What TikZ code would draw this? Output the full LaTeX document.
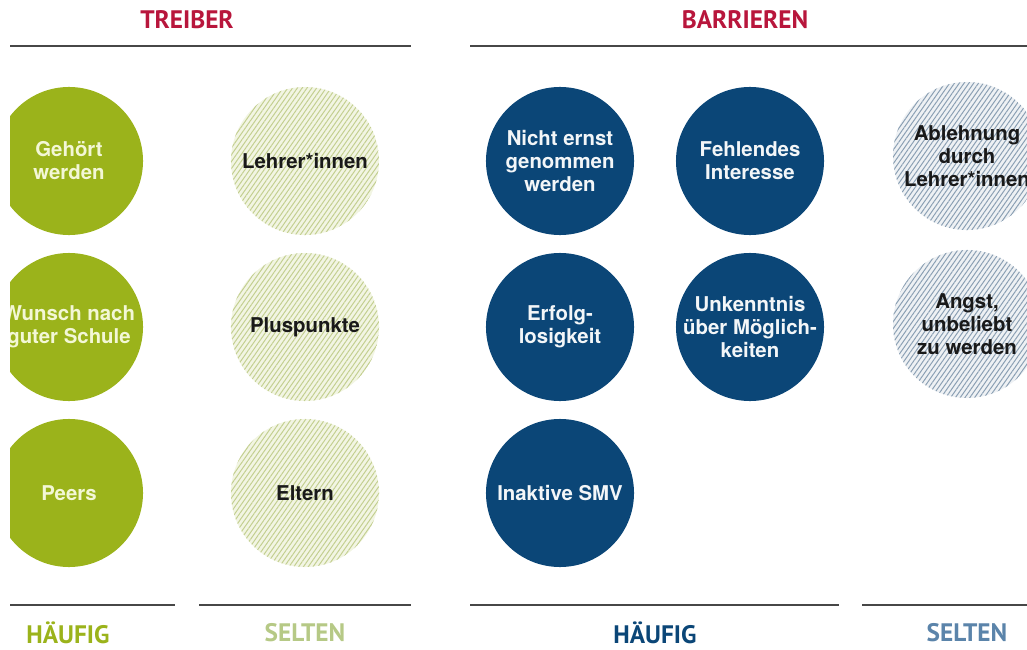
\documentclass[tikz,border=0pt]{standalone}
\usepackage{fontspec}
\setmainfont{TeX Gyre Heros}
\newfontfamily\headfont{PT Sans}
\usetikzlibrary{patterns.meta}
\definecolor{treiberrot}{HTML}{B8163C}
\definecolor{gruen}{HTML}{9BB31B}
\definecolor{gruentext}{HTML}{F3F7D6}
\definecolor{gruenbasis}{HTML}{F2F5E3}
\definecolor{gruenstreif}{HTML}{C3CF90}
\definecolor{gruenselten}{HTML}{B6C986}
\definecolor{blau}{HTML}{0B4677}
\definecolor{blaubasis}{HTML}{EEF1F4}
\definecolor{blaustreif}{HTML}{8A9FB3}
\definecolor{blauselten}{HTML}{5B84AA}
\definecolor{linie}{HTML}{474747}
\begin{document}
\begin{tikzpicture}[x=0.025cm,y=-0.025cm,
    every node/.style={align=center,font=\bfseries\fontsize{14.5}{16.4}\selectfont},
    bubble/.style={circle,minimum size=3.7cm,inner sep=0pt},
    oft gruen/.style={bubble,fill=gruen,text=gruentext},
    selten gruen/.style={bubble,text=black!90,preaction={fill=gruenbasis},
        pattern={Lines[angle=55,distance=2.8pt,line width=0.7pt]},pattern color=gruenstreif},
    oft blau/.style={bubble,fill=blau,text=white!95!blau},
    selten blau/.style={bubble,text=black!90,preaction={fill=blaubasis},
        pattern={Lines[angle=55,distance=2.8pt,line width=0.7pt]},pattern color=blaustreif},
    head/.style={inner sep=0pt,font=\headfont\bfseries\fontsize{18}{20}\selectfont},
    rule/.style={draw=linie,line width=1.4pt}]
    \clip (0,0) rectangle (1027,650);

    \node[head,text=treiberrot] (treiber) at (187,20) {TREIBER};
    \node[head,text=treiberrot] (barrieren) at (745,20) {BARRIEREN};
    \draw[rule] (10,46) -- (411,46);
    \draw[rule] (470,46) -- (1027,46);

    \begin{scope}
        \clip (10,0) rectangle (420,650);
        \node[oft gruen] (gehoert) at (69,161) {Gehört\\werden};
        \node[oft gruen] (wunsch) at (69,327) {Wunsch nach\\guter Schule};
        \node[oft gruen] (peers) at (69,493) {Peers};
    \end{scope}
    \node[selten gruen] (lehrer) at (305,161) {Lehrer*innen};
    \node[selten gruen] (plus) at (305,327) {Pluspunkte};
    \node[selten gruen] (eltern) at (305,493) {Eltern};

    \node[oft blau] (ernst) at (560,161) {Nicht ernst\\genommen\\werden};
    \node[oft blau] (interesse) at (750,161) {Fehlendes\\Interesse};
    \node[oft blau] (erfolg) at (560,327) {Erfolg-\\losigkeit};
    \node[oft blau] (unkenntnis) at (750,327) {Unkenntnis\\über Möglich-\\keiten};
    \node[oft blau] (smv) at (560,493) {Inaktive SMV};
    \node[selten blau] (ablehnung) at (967,156) {Ablehnung\\durch\\Lehrer*innen};
    \node[selten blau] (angst) at (967,324) {Angst,\\unbeliebt\\zu werden};

    \draw[rule] (10,605) -- (175,605);
    \draw[rule] (199,605) -- (411,605);
    \draw[rule] (470,605) -- (839,605);
    \draw[rule] (862,605) -- (1027,605);
    \node[head,text=gruen] (oftL) at (68,633) {HÄUFIG};
    \node[head,text=gruenselten] (seltenL) at (305,633) {SELTEN};
    \node[head,text=blau] (oftR) at (655,633) {HÄUFIG};
    \node[head,text=blauselten] (seltenR) at (967,633) {SELTEN};
\end{tikzpicture}
\end{document}
